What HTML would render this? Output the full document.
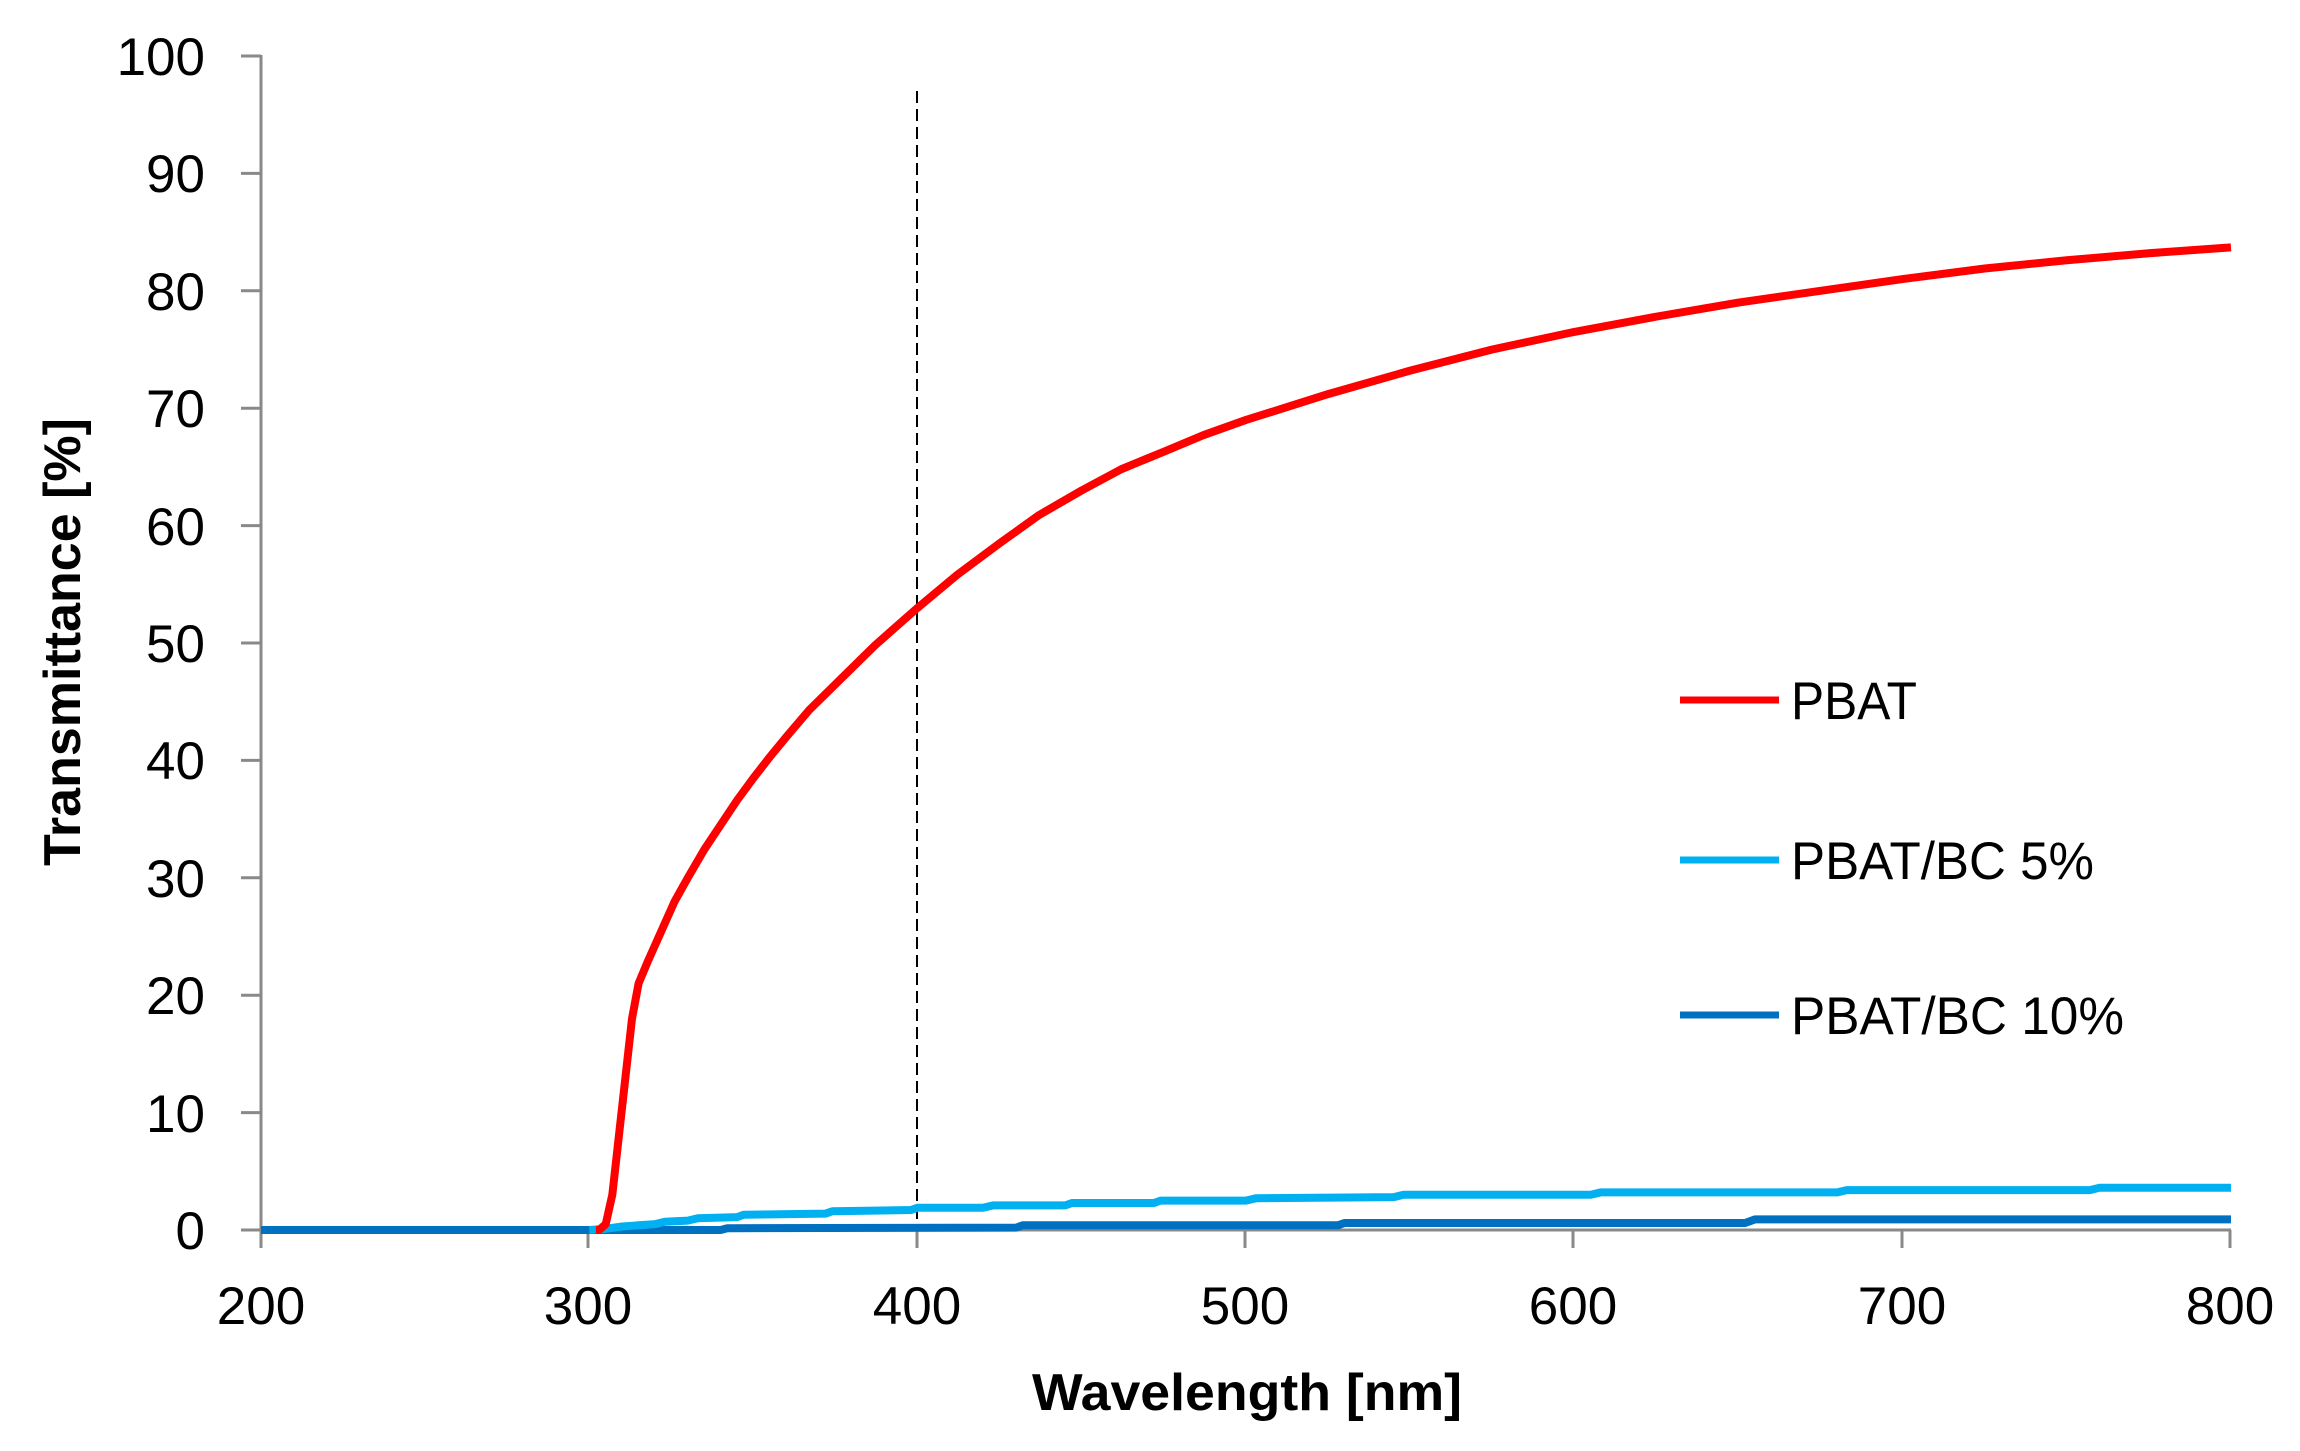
<!DOCTYPE html>
<html><head><meta charset="utf-8"><style>
html,body{margin:0;padding:0;background:#fff;}
svg{display:block;font-family:"Liberation Sans",sans-serif;}
</style></head><body>
<svg width="2300" height="1451" viewBox="0 0 2300 1451">
<rect width="2300" height="1451" fill="#fff"/>
<g stroke="#898989" stroke-width="3" fill="none">
<line x1="261" y1="55" x2="261" y2="1248"/>
<line x1="241" y1="1230" x2="2231" y2="1230"/>
<path d="M241 56H261M241 173.4H261M241 290.8H261M241 408.2H261M241 525.6H261M241 643H261M241 760.4H261M241 877.8H261M241 995.2H261M241 1112.6H261"/>
<path d="M588 1230V1248M917 1230V1248M1245 1230V1248M1573 1230V1248M1902 1230V1248M2230 1230V1248"/>
</g>
<line x1="917" y1="91" x2="917" y2="1230" stroke="#000" stroke-width="2" stroke-dasharray="12,6"/>
<g transform="translate(-395.67,1230) scale(3.2833,-11.74)" fill="none" stroke-linejoin="round">
<path vector-effect="non-scaling-stroke" stroke="#0070C0" stroke-width="8" d="M200 0 L340 0 L342 0.15 L430 0.2 L432 0.4 L528 0.4 L530 0.6 L652 0.6 L655 0.9 L800 0.9"/>
<path vector-effect="non-scaling-stroke" stroke="#00B0F0" stroke-width="8" d="M300 0 L305 0.1 L310 0.3 L320 0.5 L323 0.7 L330 0.8 L333 1.0 L345 1.1 L347 1.3 L372 1.4 L374 1.6 L398 1.7 L400 1.9 L420 1.9 L423 2.1 L445 2.1 L447 2.3 L472 2.3 L474 2.5 L500 2.5 L503 2.7 L545 2.8 L548 3.0 L605 3.0 L608 3.2 L680 3.2 L683 3.4 L757 3.4 L760 3.6 L800 3.6"/>
<path vector-effect="non-scaling-stroke" stroke="#FF0000" stroke-width="8" d="M302 0 L303 0 L305 0.5 L307 3 L309 8 L311 13 L313 18 L315 21 L318 23 L322 25.5 L326 28 L330 30 L335 32.4 L340 34.5 L345 36.6 L350 38.5 L355 40.3 L360 42 L367 44.3 L375 46.5 L387 49.8 L400 53 L412 55.8 L425 58.5 L437 60.9 L450 63 L462 64.8 L475 66.3 L487 67.7 L500 69 L525 71.2 L550 73.2 L575 75 L600 76.5 L625 77.8 L650 79 L675 80 L700 81 L725 81.9 L750 82.6 L775 83.2 L800 83.7"/>
</g>
<g font-size="53" text-anchor="end" fill="#000">
<text x="205" y="75">100</text>
<text x="205" y="192">90</text>
<text x="205" y="310">80</text>
<text x="205" y="427">70</text>
<text x="205" y="545">60</text>
<text x="205" y="662">50</text>
<text x="205" y="779">40</text>
<text x="205" y="897">30</text>
<text x="205" y="1014">20</text>
<text x="205" y="1132">10</text>
<text x="205" y="1249">0</text>
</g>
<g font-size="53" text-anchor="middle" fill="#000">
<text x="261" y="1324">200</text>
<text x="588" y="1324">300</text>
<text x="917" y="1324">400</text>
<text x="1245" y="1324">500</text>
<text x="1573" y="1324">600</text>
<text x="1902" y="1324">700</text>
<text x="2230" y="1324">800</text>
</g>
<text x="1247" y="1410" font-size="52" font-weight="bold" text-anchor="middle" textLength="430" lengthAdjust="spacingAndGlyphs">Wavelength [nm]</text>
<text transform="translate(80,642) rotate(-90)" font-size="52" font-weight="bold" text-anchor="middle" textLength="448" lengthAdjust="spacingAndGlyphs">Transmittance [%]</text>
<g stroke-width="7">
<line x1="1680" y1="700" x2="1779" y2="700" stroke="#FF0000"/>
<line x1="1680" y1="860" x2="1779" y2="860" stroke="#00B0F0"/>
<line x1="1680" y1="1015" x2="1779" y2="1015" stroke="#0070C0"/>
</g>
<g font-size="53" fill="#000">
<text x="1791" y="719" textLength="126" lengthAdjust="spacingAndGlyphs">PBAT</text>
<text x="1791" y="879" textLength="303" lengthAdjust="spacingAndGlyphs">PBAT/BC 5%</text>
<text x="1791" y="1034" textLength="333" lengthAdjust="spacingAndGlyphs">PBAT/BC 10%</text>
</g>
</svg>
</body></html>
